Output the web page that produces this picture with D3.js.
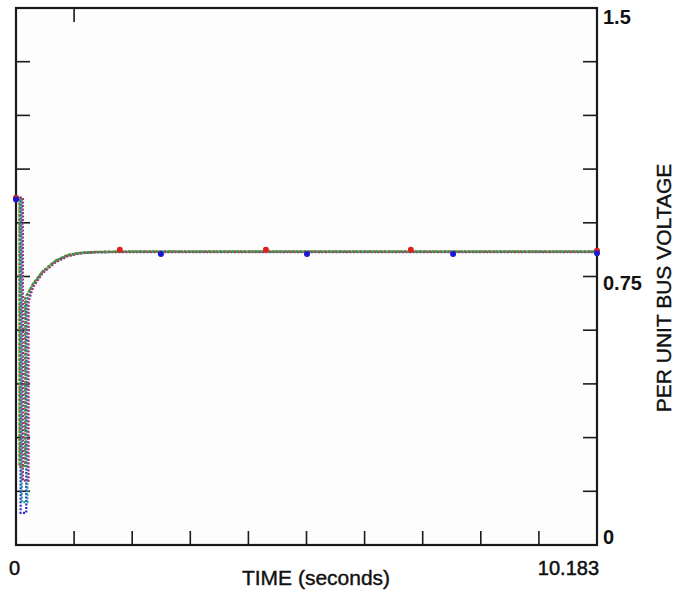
<!DOCTYPE html>
<html>
<head>
<meta charset="utf-8">
<script src="https://cdn.jsdelivr.net/npm/d3@7"></script>
<style>
  body { margin: 0; background: #fff; }
  svg { display: block; font-family: Arial, "Liberation Sans", sans-serif; }
</style>
</head>
<body>
<svg id="chart" width="684" height="592"></svg>
<script>
// time axis (seconds)
const time = [0, 0.05, 0.051, 0.15, 0.151, 0.3, 0.47, 0.7, 0.9, 1.1, 1.4, 2.0, 3.0, 4.0, 5.0, 6.0, 7.0, 8.0, 9.0, 10.183]

// per unit voltage for each monitored bus
const busA = [0.97, 0.97, 0.22, 0.22, 0.69, 0.73, 0.765, 0.795, 0.81, 0.816, 0.819, 0.82, 0.82, 0.82, 0.82, 0.82, 0.82, 0.82, 0.82, 0.82]
const busB = [0.97, 0.97, 0.18, 0.18, 0.68, 0.72, 0.76, 0.79, 0.806, 0.814, 0.818, 0.818, 0.818, 0.818, 0.818, 0.818, 0.818, 0.818, 0.818, 0.818]
const busC = [0.97, 0.97, 0.09, 0.09, 0.68, 0.725, 0.762, 0.792, 0.808, 0.815, 0.818, 0.819, 0.819, 0.819, 0.819, 0.819, 0.819, 0.819, 0.819, 0.819]
const busD = [0.97, 0.97, 0.12, 0.12, 0.685, 0.728, 0.764, 0.794, 0.809, 0.815, 0.818, 0.819, 0.819, 0.819, 0.819, 0.819, 0.819, 0.819, 0.819, 0.819]

// marker positions
const redMarkTime = [0, 1.82, 4.38, 6.92, 10.183]
const redMarkVal = [0.97, 0.825, 0.825, 0.825, 0.822]
const blueMarkTime = [0, 2.54, 5.10, 7.66, 10.183]
const blueMarkVal = [0.965, 0.813, 0.813, 0.813, 0.815]

const yTickLabels = ['0', '0.75', '1.5']
const xTickLabels = ['0', '10.183']

const series = [
  { name: 'busC', values: busC, color: '#2b2bb8', dash: '2,1.5', dx: 0.03 },
  { name: 'busD', values: busD, color: '#1fa3a3', dash: '2,1.5', dx: 0.05 },
  { name: 'busB', values: busB, color: '#a03080', dash: '2,1.5', dx: 0.07 },
  { name: 'busA', values: busA, color: '#3c9a3c', dash: '3,1', dx: 0.01 },
  { name: 'busA2', values: busA, color: '#d04030', dash: '1,4', dx: 0.01 }
]

const svg = d3.select('#chart')
const margin = { left: 16, right: 87, top: 8, bottom: 47 }
const width = 684 - margin.left - margin.right
const height = 592 - margin.top - margin.bottom

const x = d3.scaleLinear().domain([0, 10.183]).range([margin.left, margin.left + width])
const y = d3.scaleLinear().domain([0, 1.5]).range([margin.top + height, margin.top])

const tickX = d3.range(11).map(i => i * 10.183 / 10)
const tickY = d3.range(11).map(i => i * 0.15)

const g = svg.append('g')

// frame
g.append('rect')
  .attr('x', x(0)).attr('y', y(1.5))
  .attr('width', width).attr('height', height)
  .attr('fill', '#fdfdfd')
  .attr('stroke', '#1a1a1a').attr('stroke-width', 2.2)

// inner tick marks
const tickLen = 14
g.selectAll('.tb').data(tickX.slice(1, -1)).enter().append('line')
  .attr('x1', d => x(d)).attr('x2', d => x(d))
  .attr('y1', y(0)).attr('y2', y(0) - tickLen)
  .attr('stroke', '#1a1a1a').attr('stroke-width', 1.6)
g.selectAll('.tt').data(tickX.slice(1, 2)).enter().append('line')
  .attr('x1', d => x(d)).attr('x2', d => x(d))
  .attr('y1', y(1.5)).attr('y2', y(1.5) + tickLen)
  .attr('stroke', '#1a1a1a').attr('stroke-width', 1.6)
g.selectAll('.tl').data(tickY.slice(1, -1)).enter().append('line')
  .attr('x1', x(0)).attr('x2', x(0) + tickLen)
  .attr('y1', d => y(d)).attr('y2', d => y(d))
  .attr('stroke', '#1a1a1a').attr('stroke-width', 1.6)
g.selectAll('.tr').data(tickY.slice(1, -1)).enter().append('line')
  .attr('x1', x(10.183)).attr('x2', x(10.183) - tickLen)
  .attr('y1', d => y(d)).attr('y2', d => y(d))
  .attr('stroke', '#1a1a1a').attr('stroke-width', 1.6)

// curves
const line = dx => d3.line()
  .x((d, i) => x(time[i] + (i > 0 && i < 5 ? dx : 0)))
  .y(d => y(d))

g.selectAll('.curve').data(series).enter().append('path')
  .attr('d', s => line(s.dx)(s.values))
  .attr('fill', 'none')
  .attr('stroke', s => s.color)
  .attr('stroke-width', 2.2)
  .attr('stroke-dasharray', s => s.dash)

// markers
g.selectAll('.mr').data(redMarkTime).enter().append('circle')
  .attr('cx', d => x(d)).attr('cy', (d, i) => y(redMarkVal[i]))
  .attr('r', 3).attr('fill', '#e02020')
g.selectAll('.mb').data(blueMarkTime).enter().append('circle')
  .attr('cx', d => x(d)).attr('cy', (d, i) => y(blueMarkVal[i]))
  .attr('r', 3).attr('fill', '#1a1ad0')

// value labels
svg.selectAll('.yl').data(yTickLabels).enter().append('text')
  .attr('x', x(10.183) + 6)
  .attr('y', d => +d === 1.5 ? y(1.5) + 16 : (+d === 0.75 ? y(0.75) + 13 : y(0) - 1))
  .attr('font-size', 20)
  .attr('font-weight', 'bold')
  .attr('fill', '#111')
  .text(d => d)

svg.selectAll('.xl').data(xTickLabels).enter().append('text')
  .attr('x', (d, i) => i === 0 ? x(+d) - 7 : x(+d) + 2)
  .attr('y', y(0) + 30)
  .attr('text-anchor', (d, i) => i === 0 ? 'start' : 'end')
  .attr('font-size', 20)
  .attr('fill', '#111')
  .attr('stroke', '#111').attr('stroke-width', 0.5)
  .text(d => d)

svg.append('text')
  .attr('x', 316).attr('y', 585)
  .attr('text-anchor', 'middle')
  .attr('font-size', 21)
  .attr('fill', '#111')
  .attr('stroke', '#111').attr('stroke-width', 0.4)
  .text('TIME (seconds)')

svg.append('text')
  .attr('transform', 'translate(671,288) rotate(-90)')
  .attr('text-anchor', 'middle')
  .attr('font-size', 21)
  .attr('fill', '#111')
  .attr('stroke', '#111').attr('stroke-width', 0.4)
  .text('PER UNIT BUS VOLTAGE')
</script>
</body>
</html>
